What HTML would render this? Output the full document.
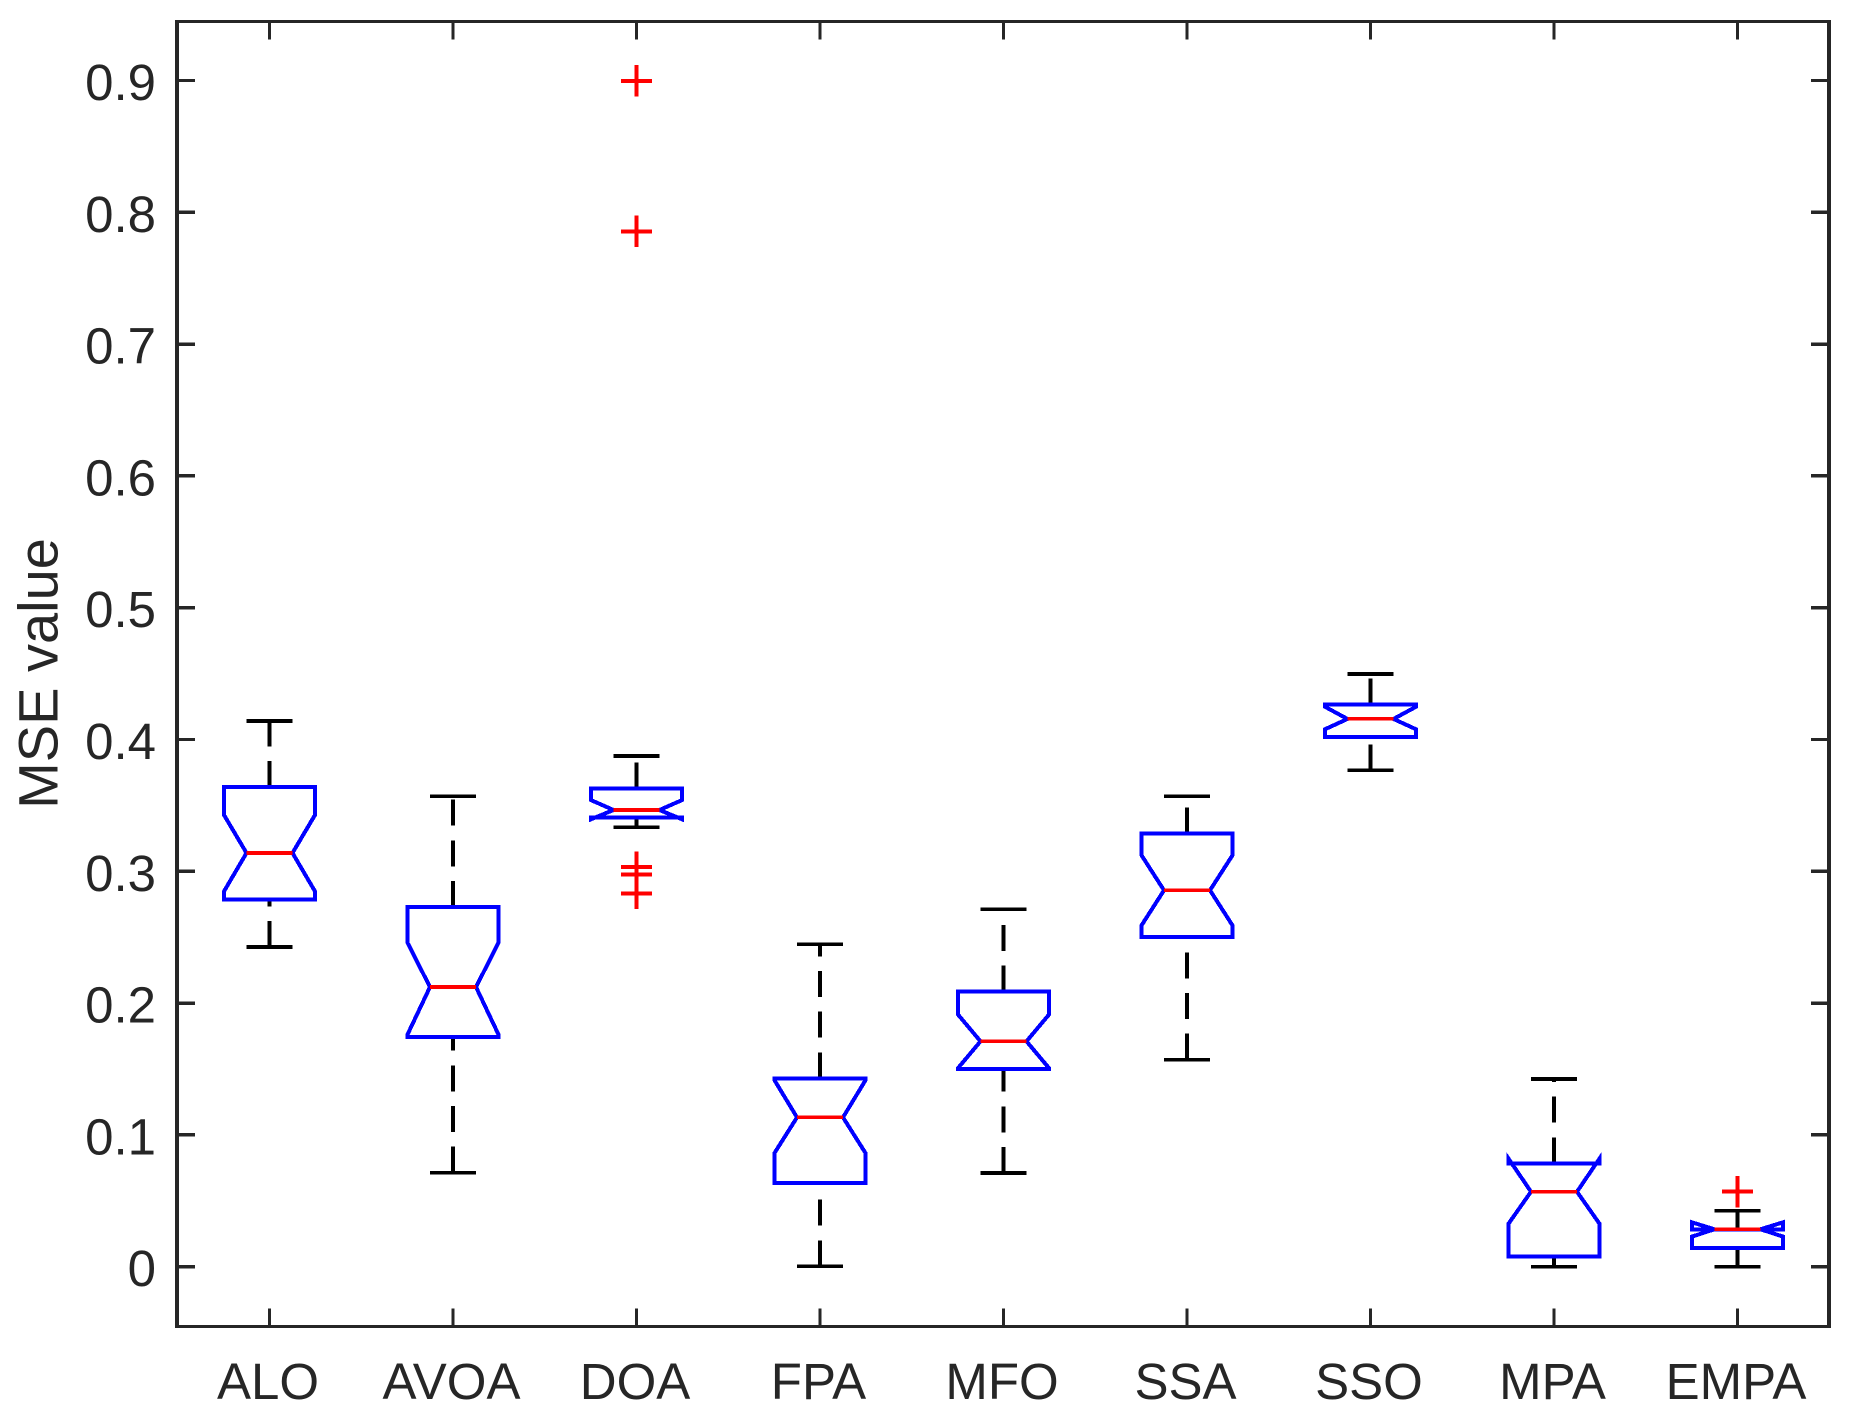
<!DOCTYPE html>
<html lang="en">
<head>
<meta charset="utf-8">
<title>MSE value box plot</title>
<style>
html,body{margin:0;padding:0;background:#fff;}
body{width:1852px;height:1422px;overflow:hidden;}
svg{display:block;}
text{font-family:"Liberation Sans",Arial,sans-serif;fill:#262626;}
line,polygon{shape-rendering:crispEdges;}
</style>
</head>
<body>
<svg id="chart" xmlns="http://www.w3.org/2000/svg" width="1852" height="1422" viewBox="0 0 1852 1422">
  <rect x="0" y="0" width="1852" height="1422" fill="#ffffff"></rect>
  <g id="marks"></g>
  <g id="axes"></g>
  <text transform="translate(57.5,673.5) rotate(-90)" text-anchor="middle" font-size="56">MSE value</text>
</svg>
<script>
const categories = ['ALO','AVOA','DOA','FPA','MFO','SSA','SSO','MPA','EMPA'];
const whiskerHigh = [0.414,0.3569,0.3875,0.2446,0.2712,0.3569,0.4497,0.1424,0.0425];
const q3Values = [0.364,0.2729,0.3627,0.1429,0.2087,0.3285,0.4267,0.0784,0.0284];
const notchHigh = [0.343,0.2461,0.3541,0.1417,0.1915,0.3124,0.4249,0.0822,0.0337];
const medians = [0.3139,0.2122,0.3465,0.1133,0.171,0.2856,0.4156,0.0569,0.0284];
const notchLow = [0.2845,0.1758,0.3394,0.086,0.1505,0.2587,0.4077,0.0324,0.0228];
const q1Values = [0.2785,0.1743,0.341,0.0635,0.15,0.2501,0.4019,0.0076,0.014];
const whiskerLow = [0.2426,0.0713,0.3334,0.0003,0.0711,0.1571,0.3766,0,0];
const outliers = [[],[],[0.8998,0.7856,0.3033,0.2975,0.2833],[],[],[],[],[],[0.0569]];
const yTicks = [0,0.1,0.2,0.3,0.4,0.5,0.6,0.7,0.8,0.9];
const yTickLabels = ['0','0.1','0.2','0.3','0.4','0.5','0.6','0.7','0.8','0.9'];

const NS = 'http://www.w3.org/2000/svg';
const plot = {left:177, right:1829, top:21.5, bottom:1326.5};
const BOX_HALF = 45.7, NOTCH_HALF = 23, CAP_HALF = 23, PLUS_HALF = 15.7;

function xScale(i){ return 269.5 + i * 183.5; }
function yScale(v){ return 1266.7 - 1318 * v; }

function addLine(parent, name, x1, y1, x2, y2, color, width, dash){
  const el = document.createElementNS(NS, 'line');
  
  
  el.setAttribute('x1', x1);
  el.setAttribute('y1', y1);
  el.setAttribute('x2', x2);
  el.setAttribute('y2', y2);
  el.setAttribute('stroke', color);
  el.setAttribute('stroke-width', width);
  if (dash) el.setAttribute('stroke-dasharray', dash);
  parent.appendChild(el);
  return el;
}

function addText(parent, name, x, y, anchor, content){
  const el = document.createElementNS(NS, 'text');
  
  
  el.setAttribute('x', x);
  el.setAttribute('y', y);
  el.setAttribute('text-anchor', anchor);
  el.setAttribute('font-size', '51');
  el.textContent = content;
  parent.appendChild(el);
  return el;
}

const axes = document.getElementById('axes');
const marks = document.getElementById('marks');
const AXIS = '#262626';

addLine(axes, 'axis-frame-left', plot.left, plot.top - 1.5, plot.left, plot.bottom + 1.5, AXIS, 4);
addLine(axes, 'axis-frame-right', plot.right, plot.top - 1.5, plot.right, plot.bottom + 1.5, AXIS, 4);
addLine(axes, 'axis-frame-top', plot.left, plot.top, plot.right, plot.top, AXIS, 3);
addLine(axes, 'axis-frame-bottom', plot.left, plot.bottom, plot.right, plot.bottom, AXIS, 3);

yTicks.forEach(function(v, i){
  const y = yScale(v);
  addLine(axes, 'y-tick-left-' + yTickLabels[i], plot.left, y, plot.left + 18, y, AXIS, 3.4);
  addLine(axes, 'y-tick-right-' + yTickLabels[i], plot.right, y, plot.right - 18, y, AXIS, 3.4);
  addText(axes, 'y-tick-label-' + yTickLabels[i], 156, y + 19.5, 'end', yTickLabels[i]);
});

categories.forEach(function(name, i){
  const x = xScale(i);
  addLine(axes, 'x-tick-bottom-' + name, x, plot.bottom, x, plot.bottom - 18, AXIS, 3.4);
  addLine(axes, 'x-tick-top-' + name, x, plot.top, x, plot.top + 18, AXIS, 3.4);
  addText(axes, 'x-tick-label-' + name, x - 1.5, 1399, 'middle', name);
});

categories.forEach(function(name, i){
  const x = xScale(i);
  const g = document.createElementNS(NS, 'g');
  
  
  marks.appendChild(g);

  const dash = '26 14.67';
  addLine(g, 'upper-whisker-' + name, x, yScale(q3Values[i]), x, yScale(whiskerHigh[i]), '#000000', 3.6, dash);
  addLine(g, 'lower-whisker-' + name, x, yScale(whiskerLow[i]), x, yScale(q1Values[i]), '#000000', 3.6, dash);
  addLine(g, 'upper-cap-' + name, x - CAP_HALF, yScale(whiskerHigh[i]), x + CAP_HALF, yScale(whiskerHigh[i]), '#000000', 3.6);
  addLine(g, 'lower-cap-' + name, x - CAP_HALF, yScale(whiskerLow[i]), x + CAP_HALF, yScale(whiskerLow[i]), '#000000', 3.6);

  const pts = [
    [x - BOX_HALF, yScale(q1Values[i])],
    [x - BOX_HALF, yScale(notchLow[i])],
    [x - NOTCH_HALF, yScale(medians[i])],
    [x - BOX_HALF, yScale(notchHigh[i])],
    [x - BOX_HALF, yScale(q3Values[i])],
    [x + BOX_HALF, yScale(q3Values[i])],
    [x + BOX_HALF, yScale(notchHigh[i])],
    [x + NOTCH_HALF, yScale(medians[i])],
    [x + BOX_HALF, yScale(notchLow[i])],
    [x + BOX_HALF, yScale(q1Values[i])]
  ];
  const box = document.createElementNS(NS, 'polygon');
  
  
  box.setAttribute('points', pts.map(function(p){ return p[0] + ',' + p[1]; }).join(' '));
  box.setAttribute('fill', 'none');
  box.setAttribute('stroke', '#0000ff');
  box.setAttribute('stroke-width', '4');
  box.setAttribute('stroke-linejoin', 'miter');
  g.appendChild(box);

  addLine(g, 'median-line-' + name, x - NOTCH_HALF, yScale(medians[i]), x + NOTCH_HALF, yScale(medians[i]), '#ff0000', 3.6);

  outliers[i].forEach(function(v, k){
    const y = yScale(v);
    addLine(g, 'outlier-' + name + '-' + k + '-horizontal', x - PLUS_HALF, y, x + PLUS_HALF, y, '#ff0000', 4);
    addLine(g, 'outlier-' + name + '-' + k + '-vertical', x, y - PLUS_HALF, x, y + PLUS_HALF, '#ff0000', 4);
  });
});
</script>
</body>
</html>
